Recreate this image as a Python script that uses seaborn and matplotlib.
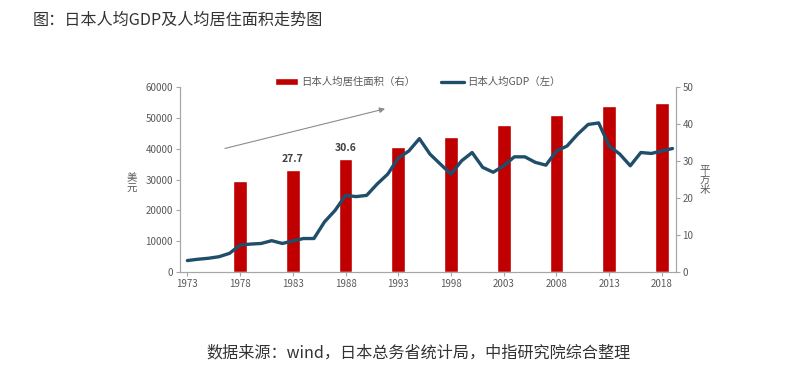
import matplotlib.pyplot as plt
import seaborn as sns
import pandas as pd

# data
gdp_years = list(range(1973, 2020))
gdp_usd = [3750, 4180, 4500, 5000, 6100, 8800, 9100, 9300, 10200, 9300,
           10100, 10900, 10900, 16300, 20000, 24900, 24500, 24900, 28600, 31800,
           37000, 39300, 43300, 38300, 35000, 31800, 36100, 38800, 34000, 32400,
           34500, 37400, 37400, 35600, 34700, 39300, 40900, 44700, 47900, 48400,
           40900, 38300, 34500, 38800, 38500, 39300, 40100]

area_years = [1978, 1983, 1988, 1993, 1998, 2003, 2008, 2013, 2018]
area_sqm = [24.6, 27.7, 30.6, 33.7, 36.6, 39.9, 42.4, 44.9, 45.8]
labelled_years = [1983, 1988]

x_ticks = list(range(1973, 2019, 5))
left_ticks = list(range(0, 60001, 10000))
right_ticks = list(range(0, 51, 10))

bar_name = "日本人均居住面积（右）"
line_name = "日本人均GDP（左）"
title = "图：日本人均GDP及人均居住面积走势图"
source = "数据来源：wind，日本总务省统计局，中指研究院综合整理"

sns.set_theme(style="white")
plt.rcParams['font.family'] = ['Noto Sans CJK SC', 'DejaVu Sans']

grey = "#595959"
red = "#c00000"
blue = "#1f4e6b"

df_gdp = pd.DataFrame({"year": gdp_years, "gdp": gdp_usd})
df_area = pd.DataFrame({"year": area_years, "area": area_sqm})

fig = plt.figure(figsize=(7.93, 3.79), dpi=100)
ax = fig.add_axes([0.227, 0.282, 0.625, 0.488])
ax2 = ax.twinx()

# bars on right axis, line on left axis drawn above bars
sns.barplot(data=df_area, x="year", y="area", native_scale=True, width=0.26,
            color=red, saturation=1, ax=ax2, label=bar_name)
sns.lineplot(data=df_gdp, x="year", y="gdp", color=blue, lw=2.4, ax=ax,
             label=line_name)
ax.set_zorder(ax2.get_zorder() + 1)
ax.patch.set_visible(False)

ax.set_xlim(1972.3, 2019.3)
ax.set_ylim(0, 60000)
ax2.set_ylim(0, 50)
ax.set_xticks(x_ticks)
ax.set_yticks(left_ticks)
ax2.set_yticks(right_ticks)
ax.set_xlabel("")
ax.set_ylabel("")
ax2.set_ylabel("")

for a in (ax, ax2):
    a.spines["top"].set_visible(False)
    for s in ("left", "right", "bottom"):
        a.spines[s].set_color("#a6a6a6")
        a.spines[s].set_linewidth(0.8)
    a.tick_params(axis="both", labelsize=7, colors="#a6a6a6", labelcolor=grey,
                  length=3, width=0.8, direction="out", pad=2)
ax.tick_params(left=True, bottom=True)
ax2.tick_params(right=True)

# value labels
for yr, v in zip(area_years, area_sqm):
    if yr in labelled_years:
        ax2.annotate(f"{v:.1f}", (yr, v), xytext=(0, 4), textcoords="offset points",
                     ha="center", va="bottom", fontsize=7.5, fontweight="bold",
                     color="#404040")

# trend arrow
ax.annotate("", xy=(1992.0, 53200), xytext=(1976.3, 39900),
            arrowprops=dict(arrowstyle="-|>", color="#8c8c8c", lw=0.8,
                            mutation_scale=8))

# axis unit labels
ax.text(-0.097, 0.48, "美\n元", transform=ax.transAxes, ha="center", va="center",
        fontsize=7.5, color=grey, linespacing=1.0)
ax.text(1.058, 0.497, "平\n方\n米", transform=ax.transAxes, ha="center", va="center",
        fontsize=7.5, color=grey, linespacing=1.0)

# legend
h1, l1 = ax2.get_legend_handles_labels()
h2, l2 = ax.get_legend_handles_labels()
if ax2.get_legend():
    ax2.get_legend().remove()
if ax.get_legend():
    ax.get_legend().remove()
ax.legend(h1 + h2, l1 + l2, ncol=2, frameon=False, loc="center",
          bbox_to_anchor=(0.48, 1.027), fontsize=7.5, labelcolor=grey,
          handlelength=2.2, handleheight=0.6, columnspacing=2.5, handletextpad=0.3)

fig.text(33 / 793, 1 - 20 / 379, title, ha="left", va="center", fontsize=11.6,
         color="#333333")
fig.text(419 / 793, 1 - 353 / 379, source, ha="center", va="center", fontsize=11.6,
         color="#333333")

fig.savefig("out.png", dpi=100)
